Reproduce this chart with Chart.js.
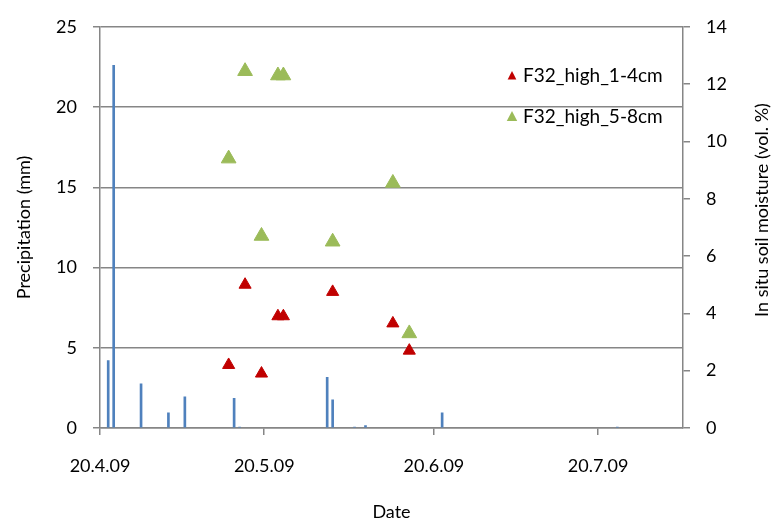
<!DOCTYPE html>
<html>
<head>
<meta charset="utf-8">
<title>Precipitation and soil moisture F32</title>
<script src="https://cdn.jsdelivr.net/npm/chart.js@4/dist/chart.umd.min.js"></script>
<style>
  html, body { margin: 0; padding: 0; background: #fff; }
  #wrap { width: 774px; height: 523px; }
</style>
</head>
<body>
<div id="wrap"><canvas id="chart" width="774" height="523"></canvas></div>
<script>
// ---- data ----
const tickDates = ['20.4.09', '20.5.09', '20.6.09', '20.7.09'];

const rainDates = ['21.4.09', '22.4.09', '27.4.09', '2.5.09', '5.5.09', '14.5.09', '15.5.09',
                   '31.5.09', '1.6.09', '5.6.09', '7.6.09', '21.6.09', '23.7.09'];
const rainMm    = [4.2, 22.6, 2.75, 0.95, 1.95, 1.85, 0.05,
                   3.15, 1.75, 0.05, 0.15, 0.95, 0.05];

const soilDates = ['13.5.09', '16.5.09', '19.5.09', '22.5.09', '23.5.09', '1.6.09', '12.6.09', '15.6.09'];
const soil1to4  = [2.2, 5.0, 1.9, 3.9, 3.9, 4.75, 3.65, 2.7];
const soil5to8  = [9.4, 12.45, 6.7, 12.3, 12.3, 6.5, 8.55, 3.3];

// ---- helpers ----
const START = Date.UTC(2009, 3, 20);
function dayOf(s) {
  const p = s.split('.');
  return (Date.UTC(2000 + +p[2], +p[1] - 1, +p[0]) - START) / 864e5;
}
const NOON = 0.5; // values sit in the middle of their day
const xy = (dates, vals) => dates.map((d, i) => ({ x: dayOf(d) + NOON, y: vals[i] }));
const tickDays = tickDates.map(dayOf);

const FONT = 'Lato, "Open Sans", sans-serif';
const AXIS = '#868686';
const RED = '#c00000';
const GREEN = '#9bbb59';

// legend inside the plot + right title reading bottom-to-top
const extras = {
  id: 'extras',
  afterDraw(chart) {
    const ctx = chart.ctx;
    ctx.save();
    ctx.font = '19px ' + FONT;
    ctx.fillStyle = '#000';
    ctx.textBaseline = 'middle';
    ctx.textAlign = 'left';
    const items = [
      { label: 'F32_high_1-4cm', color: RED, r: 5, y: 76 },
      { label: 'F32_high_5-8cm', color: GREEN, r: 6, y: 117 },
    ];
    items.forEach(it => {
      ctx.fillStyle = it.color;
      ctx.beginPath();
      ctx.moveTo(512, it.y - it.r);
      ctx.lineTo(512 + it.r * 0.87, it.y + it.r / 2 + 1);
      ctx.lineTo(512 - it.r * 0.87, it.y + it.r / 2 + 1);
      ctx.closePath();
      ctx.fill();
      ctx.fillStyle = '#000';
      ctx.fillText(it.label, 523, it.y);
    });

    ctx.font = '18px ' + FONT;
    ctx.translate(762, 210);
    ctx.rotate(-Math.PI / 2);
    ctx.textAlign = 'center';
    ctx.fillText('In situ soil moisture (vol. %)', 0, 0);
    ctx.restore();
  }
};

new Chart(document.getElementById('chart'), {
  type: 'bar',
  data: {
    datasets: [
      {
        type: 'line',
        label: 'F32_high_1-4cm',
        data: xy(soilDates, soil1to4),
        yAxisID: 'y1',
        showLine: false,
        pointStyle: 'triangle',
        pointRadius: 7,
        pointBackgroundColor: RED,
        pointBorderColor: RED,
        pointBorderWidth: 1,
      },
      {
        type: 'line',
        label: 'F32_high_5-8cm',
        data: xy(soilDates, soil5to8),
        yAxisID: 'y1',
        showLine: false,
        pointStyle: 'triangle',
        pointRadius: 8.5,
        pointBackgroundColor: GREEN,
        pointBorderColor: GREEN,
        pointBorderWidth: 1,
      },
      {
        label: 'Precipitation',
        data: xy(rainDates, rainMm),
        yAxisID: 'y',
        backgroundColor: '#4f81bd',
        barThickness: 2,
      },
    ],
  },
  options: {
    responsive: false,
    animation: false,
    layout: { padding: { top: 23, left: 0, right: 0, bottom: 0 } },
    plugins: { legend: { display: false }, tooltip: { enabled: false } },
    scales: {
      x: {
        type: 'linear',
        min: 0,
        max: 106.5,
        offset: false,
        afterBuildTicks: (s) => { s.ticks = tickDays.map(v => ({ value: v })); },
        afterFit: (s) => { s.height = 95; },
        ticks: {
          autoSkip: false,
          maxRotation: 0,
          padding: 20,
          color: '#000',
          font: { family: FONT, size: 18 },
          callback: (v) => tickDates[tickDays.indexOf(v)],
        },
        grid: { offset: false, drawOnChartArea: false, tickLength: 7, color: AXIS, lineWidth: 1.5 },
        border: { color: AXIS, width: 1.5 },
        title: { display: true, text: 'Date', color: '#000', font: { family: FONT, size: 18 }, padding: 0 },
      },
      y: {
        position: 'left',
        min: 0,
        max: 25,
        afterFit: (s) => { s.width = 100; },
        ticks: { stepSize: 5, padding: 16, color: '#000', font: { family: FONT, size: 18 } },
        grid: { color: AXIS, lineWidth: 1.5, tickLength: 7 },
        border: { color: AXIS, width: 1.5 },
        title: { display: true, text: 'Precipitation (mm)', color: '#000', font: { family: FONT, size: 18 }, padding: { top: 13, bottom: 0 } },
      },
      y1: {
        position: 'right',
        min: 0,
        max: 14,
        afterFit: (s) => { s.width = 91; },
        ticks: { stepSize: 2, padding: 16, color: '#000', font: { family: FONT, size: 18 } },
        grid: { drawOnChartArea: false, tickLength: 7, color: AXIS, lineWidth: 1.5 },
        border: { color: AXIS, width: 1.5 },
      },
    },
  },
  plugins: [extras],
});
</script>
</body>
</html>
